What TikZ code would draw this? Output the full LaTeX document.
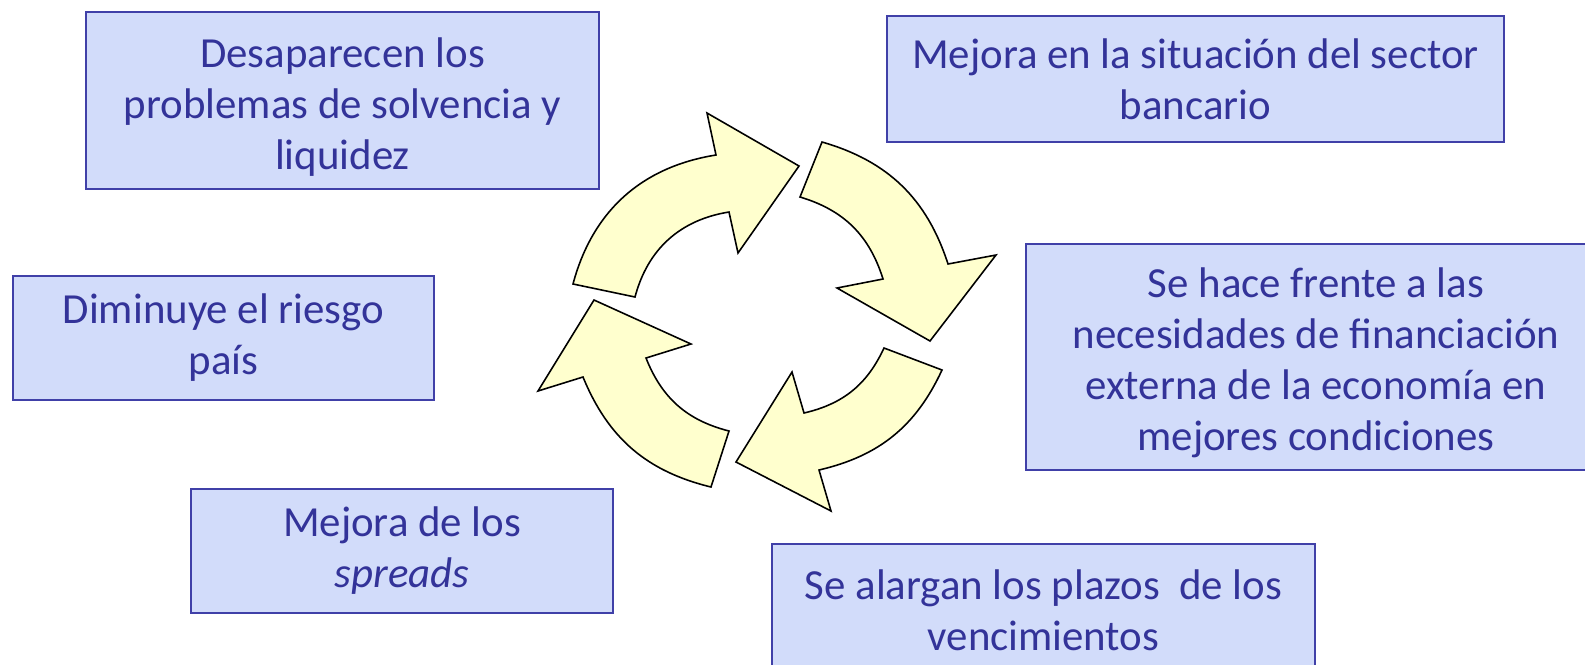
\documentclass[tikz,border=0pt]{standalone}
\usepackage{fontspec}
\setmainfont{Carlito}
\definecolor{boxtext}{RGB}{51,51,153}
\definecolor{boxline}{RGB}{64,64,168}
\definecolor{boxfill}{RGB}{210,220,250}
\definecolor{arrowfill}{RGB}{255,255,206}

\begin{document}
\begin{tikzpicture}[x=0.02cm,y=-0.02cm,
    infobox/.style={draw=boxline,line width=1.2pt,fill=boxfill,
        text=boxtext,align=center,inner sep=0pt,
        font=\fontsize{24.4}{29}\selectfont},
    cyclearrow/.style={draw=black,line width=0.9pt,fill=arrowfill,line join=miter}]
    \useasboundingbox (0,0) rectangle (1585,664);
    \clip (0,0) rectangle (1585,664);

    % Cycle arrows
    \draw[cyclearrow] (573,284) to[bend left=33] (716,155) -- (707,113)
        -- (799,166) -- (738,253) -- (729,212) to[bend right=33] (635,297) -- cycle;
    \draw[cyclearrow] (822,142) to[bend left=28] (948,264) -- (996,255)
        -- (930,341) -- (837,288) -- (883,279) to[bend right=28] (800,197) -- cycle;
    \draw[cyclearrow] (942,370) to[bend left=26] (819,470) -- (831,511)
        -- (736,462) -- (792,372) -- (804,413) to[bend right=26] (884,348) -- cycle;
    \draw[cyclearrow] (711,487) to[bend left=27] (583,377) -- (538,391)
        -- (594,300) -- (691,344) -- (646,358) to[bend right=27] (729,431) -- cycle;

    % Boxes
    \node[infobox,minimum width=10.26cm,minimum height=3.54cm] (solvencia) at (342.5,100.5)
        {\rule{0pt}{24pt}Desaparecen los\\problemas de solvencia y\\liquidez};
    \node[infobox,minimum width=12.34cm,minimum height=2.52cm] (bancario) at (1195.5,79)
        {Mejora en la situación del sector\\bancario};
    \node[infobox,minimum width=8.42cm,minimum height=2.48cm] (riesgo) at (223.5,338)
        {Diminuye el riesgo\\país};
    \node[infobox,minimum width=11.6cm,minimum height=4.52cm] (financiacion) at (1316,357)
        {\rule{0pt}{24pt}Se hace frente a las\\necesidades de financiación\\externa de la economía en\\mejores condiciones};
    \node[infobox,minimum width=8.44cm,minimum height=2.48cm] (spreads) at (402,551)
        {Mejora de los\\\textit{spreads}};
    \node[infobox,minimum width=10.86cm,minimum height=2.64cm] (plazos) at (1043.5,610)
        {Se alargan los plazos~ de los\\vencimientos};
\end{tikzpicture}
\end{document}
